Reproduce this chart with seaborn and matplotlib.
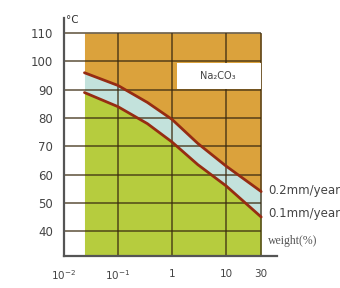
import numpy as np
import seaborn as sns
import matplotlib.pyplot as plt

# corrosion curves for Na2CO3 (temperature vs concentration)
weight = [0.024, 0.1, 0.35, 1, 3, 10, 30]
temp_02 = [96, 91.5, 85.5, 79.5, 71, 63, 54]   # 0.2 mm/year
temp_01 = [89, 84, 78, 71.5, 63.5, 56, 45]     # 0.1 mm/year

y_ticks = [40, 50, 60, 70, 80, 90, 100, 110]
x_ticks = [0.01, 0.1, 1, 10, 30]
x_labels = ['$10^{-2}$', '$10^{-1}$', '1', '10', '30']
line_labels = ['0.2mm/year', '0.1mm/year']

ORANGE = '#dba23c'
GREEN = '#b6cc3e'
BLUE = '#c3e2dc'
RED = '#962c12'
GRID = '#3a2a10'

# the scale is log up to 10, the last step 10-30 is stretched a bit
K = 1.36


def fwd(x):
    lx = np.log10(np.clip(np.asarray(x, dtype=float), 1e-6, None))
    return np.where(lx > 1, 1 + (lx - 1) * K, lx)


def inv(u):
    u = np.asarray(u, dtype=float)
    return np.where(u > 1, 10 ** (1 + (u - 1) / K), 10.0 ** u)


sns.set_style('white')
fig = plt.figure(figsize=(3.4, 2.88), dpi=100)
ax = fig.add_axes([0.188, 0.111, 0.627, 0.826])
ax.set_xscale('function', functions=(fwd, inv))
ax.set_xlim(0.01, 49.4)
ax.set_ylim(31.2, 115.3)

xs = np.array(weight)
top = 110
ax.fill_between(xs, temp_02, top, color=ORANGE, lw=0, zorder=1)
ax.fill_between(xs, temp_01, temp_02, color=BLUE, lw=0, zorder=1)
ax.fill_between(xs, 31.2, temp_01, color=GREEN, lw=0, zorder=1)

# grid
ax.hlines(y_ticks, 0.01, 30, color=GRID, alpha=0.65, lw=1.4, zorder=2)
ax.vlines([0.1, 1, 10, 30], 31.2, top, color=GRID, alpha=0.65, lw=1.4, zorder=2)

# substance label box
ax.fill_between([1.24, 30], 90.3, 99.6, color='white', lw=0, zorder=3)
ax.text(7.0, 95, 'Na₂CO₃', ha='center', va='center', fontsize=7, color='#444', zorder=4)

sns.lineplot(x=weight, y=temp_02, color=RED, lw=2, ax=ax, zorder=5)
sns.lineplot(x=weight, y=temp_01, color=RED, lw=2, ax=ax, zorder=5)

# right side labels
ax.text(37, temp_02[-1] + 0.3, line_labels[0], fontsize=8.5, color='#444',
        va='center', ha='left', clip_on=False)
ax.text(37, temp_01[-1] + 1.3, line_labels[1], fontsize=8.5, color='#444',
        va='center', ha='left', clip_on=False)
ax.text(37, 36.4, 'weight(%)', fontsize=8.5, color='#555', family='Liberation Serif',
        va='center', ha='left', clip_on=False)
ax.text(0.0108, 114.5, '°C', fontsize=7.5, color='#333', va='center', ha='left', clip_on=False)

ax.set_yticks(y_ticks)
ax.set_yticklabels([str(v) for v in y_ticks], fontsize=8.5, color='#444')
ax.set_xticks(x_ticks)
ax.set_xticklabels(x_labels, fontsize=7.5, color='#444')
ax.xaxis.set_minor_locator(plt.NullLocator())
ax.tick_params(axis='both', length=0)
ax.tick_params(axis='y', pad=8)
ax.tick_params(axis='x', pad=9)

for side in ['top', 'right']:
    ax.spines[side].set_visible(False)
for side in ['left', 'bottom']:
    ax.spines[side].set_color('#555')
    ax.spines[side].set_linewidth(1.6)

fig.savefig('out.png', dpi=100)
